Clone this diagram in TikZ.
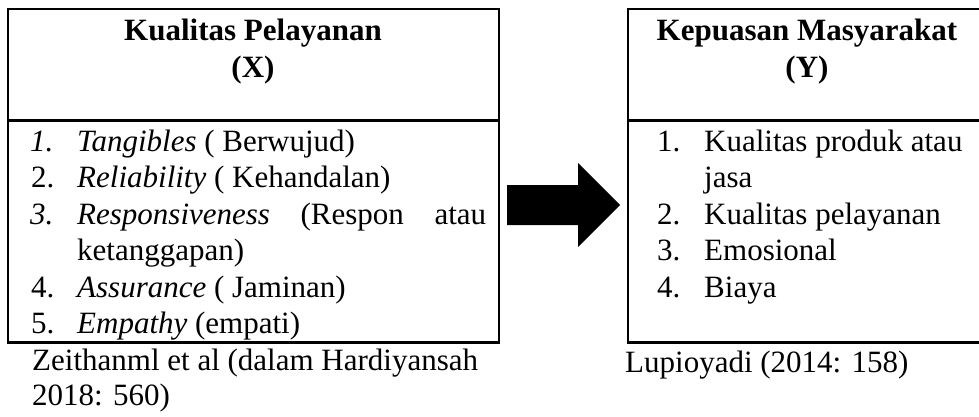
\documentclass[tikz,border=0pt]{standalone}
\usepackage{fontspec}
\setmainfont{Liberation Serif}
\begin{document}
\begin{tikzpicture}[x=1pt,y=-1pt,
  frame/.style={line width=2.2pt},
  txt/.style={anchor=base west, inner sep=0pt, font=\fontsize{31}{36}\selectfont},
  ttl/.style={anchor=base, inner sep=0pt, font=\fontsize{31}{36}\selectfont\bfseries}]
\useasboundingbox (0,0) rectangle (979,416);
\clip (0,0) rectangle (979,416);

% left panel: variable X
\draw[frame] (8,9) rectangle (499,342.5);
\draw[frame] (8,120.5) -- (499,120.5);
\node[ttl] (xt1) at (253,40) {Kualitas Pelayanan};
\node[ttl] (xt2) at (253,77) {(X)};
\node[txt] (xn1) at (30,151) {\textit{1.}};
\node[txt] (xi1) at (77,151) {\textit{Tangibles} ( Berwujud)};
\node[txt] (xn2) at (31,187.5) {2.};
\node[txt] (xi2) at (77,187.5) {\textit{Reliability} ( Kehandalan)};
\node[txt] (xn3) at (30,224) {\textit{3.}};
\node[txt] (xi3) at (77,224) {\makebox[409pt][s]{\textit{Responsiveness} (Respon atau}};
\node[txt] (xi3b) at (77,260.5) {ketanggapan)};
\node[txt] (xn4) at (31,297) {4.};
\node[txt] (xi4) at (77,297) {\textit{Assurance} ( Jaminan)};
\node[txt] (xn5) at (31,333.5) {5.};
\node[txt] (xi5) at (77,333.5) {\textit{Empathy} (empati)};
\node[txt] (xs1) at (32,370) {Zeithanml et al (dalam Hardiyansah};
\node[txt] (xs2) at (32,405) {2018: 560)};

% block arrow from X to Y
\fill (507,185) -- (578,185) -- (578,163) -- (620,205) -- (578,247) -- (578,225) -- (507,225) -- cycle;

% right panel: variable Y
\draw[frame] (628,9) rectangle (990,342.5);
\draw[frame] (628,120.5) -- (990,120.5);
\node[ttl] (yt1) at (807,40) {Kepuasan Masyarakat};
\node[ttl] (yt2) at (807,77) {(Y)};
\node[txt] (yn1) at (657,151) {1.};
\node[txt] (yi1) at (704,151) {Kualitas produk atau};
\node[txt] (yi1b) at (704,187.5) {jasa};
\node[txt] (yn2) at (657,224) {2.};
\node[txt] (yi2) at (704,224) {Kualitas pelayanan};
\node[txt] (yn3) at (657,260.5) {3.};
\node[txt] (yi3) at (704,260.5) {Emosional};
\node[txt] (yn4) at (657,297) {4.};
\node[txt] (yi4) at (704,297) {Biaya};
\node[txt] (ys1) at (625,372) {Lupioyadi (2014: 158)};
\end{tikzpicture}
\end{document}
